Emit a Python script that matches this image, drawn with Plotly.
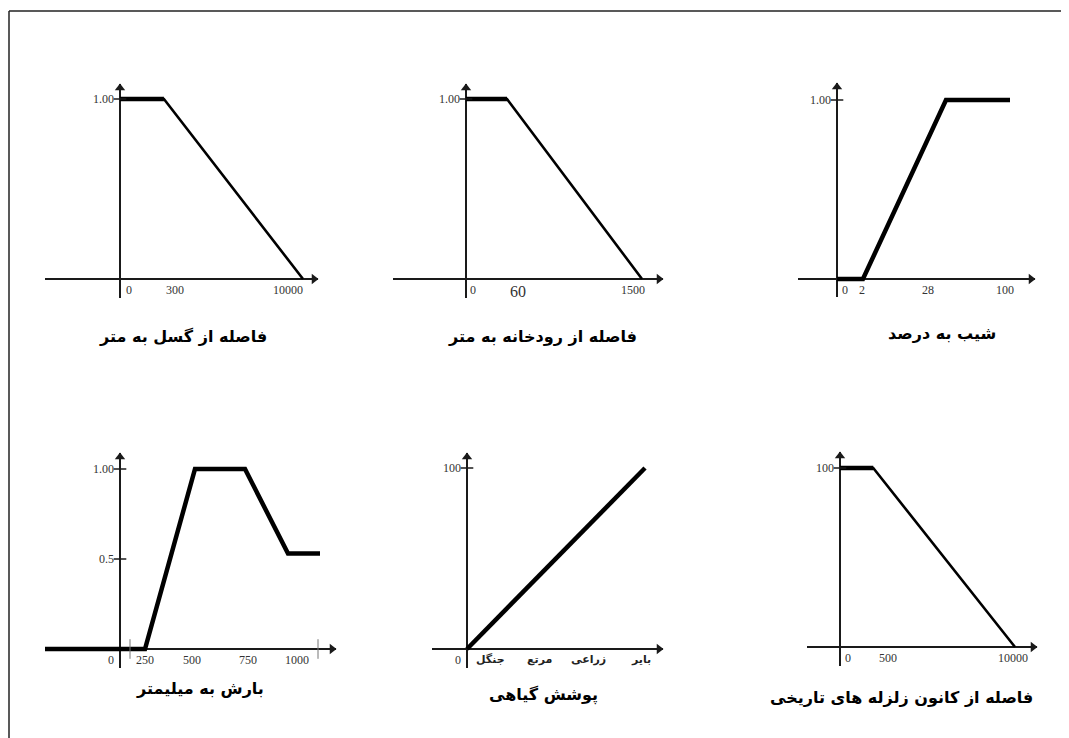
import plotly.graph_objects as go

W, H = 1069, 738
OFF = 8  # the page body adds an 8px margin, so pixel positions are shifted back by that

# ---- data: schematic membership functions (x = position along drawn axis, 1 = last breakpoint) ----
fault_x = [0, 0.24, 1.0]
fault_y = [1, 1, 0]
fault_ticks = ["0", "300", "10000"]
fault_tick_pos = [0.02, 0.30, 0.92]

river_x = [0, 0.233, 1.0]
river_y = [1, 1, 0]
river_ticks = ["0", "60", "1500"]
river_tick_pos = [0.012, 0.295, 0.949]

slope_x = [0, 0.15, 0.63, 1.0]
slope_y = [0, 0, 1, 1]
slope_ticks = ["0", "2", "28", "100"]
slope_tick_pos = [0.02, 0.145, 0.526, 0.971]

rain_x = [-0.375, 0.125, 0.375, 0.625, 0.84, 1.0]
rain_y = [0, 0, 1, 1, 0.53, 0.53]
rain_ticks = ["0", "250", "500", "750", "1000"]
rain_tick_pos = [-0.02, 0.125, 0.36, 0.64, 0.885]

veg_x = [0, 1.0]
veg_y = [0, 100]
veg_ticks = ["0", "جنگل", "مرتع", "زراعی", "بایر"]
veg_tick_pos = [-0.02, 0.13, 0.41, 0.68, 0.98]

quake_x = [0, 0.19, 1.0]
quake_y = [100, 100, 0]
quake_ticks = ["0", "500", "10000"]
quake_tick_pos = [0.017, 0.274, 0.99]

titles = ["فاصله از گسل به متر", "فاصله از رودخانه به متر", "شیب به درصد",
          "بارش به میلیمتر", "پوشش گیاهی", "فاصله از کانون زلزله های تاریخی"]

# ---- layout geometry in pixels: y-axis x, axis start, arrow tip, unit, x-axis y, top, unit, bottom ----
panels = [
    dict(x=fault_x, y=fault_y, ticks=fault_ticks, tpos=fault_tick_pos, ytick=1, ylab="1.00",
         yax=120, x0=45, x1=318, ux=183, py=279, top=84, uy=180, bot=298, lw=2.6, scale=1,
         tx=183, ty=337, plateau=True),
    dict(x=river_x, y=river_y, ticks=river_ticks, tpos=river_tick_pos, ytick=1, ylab="1.00",
         yax=466, x0=393, x1=663, ux=176, py=279, top=84, uy=180, bot=298, lw=2.6, scale=1,
         tx=542, ty=337, plateau=True),
    dict(x=slope_x, y=slope_y, ticks=slope_ticks, tpos=slope_tick_pos, ytick=1, ylab="1.00",
         yax=837, x0=798, x1=1035, ux=173, py=279, top=83, uy=179, bot=297, lw=4.5, scale=1,
         tx=942, ty=333, plateau=False),
    dict(x=rain_x, y=rain_y, ticks=rain_ticks, tpos=rain_tick_pos, ytick=1, ylab="1.00",
         yax=120, x0=45, x1=336, ux=200, py=649, top=453, uy=180, bot=668, lw=4.5, scale=1,
         tx=200, ty=688, plateau=False),
    dict(x=veg_x, y=veg_y, ticks=veg_ticks, tpos=veg_tick_pos, ytick=100, ylab="100",
         yax=467, x0=432, x1=663, ux=178, py=649, top=453, uy=181, bot=668, lw=4.5, scale=100,
         tx=543, ty=695, plateau=False),
    dict(x=quake_x, y=quake_y, ticks=quake_ticks, tpos=quake_tick_pos, ytick=100, ylab="100",
         yax=840, x0=807, x1=1037, ux=175, py=647, top=452, uy=179, bot=666, lw=2.6, scale=100,
         tx=901, ty=697, plateau=True),
]


def px(v):
    return (v - OFF) / W


def py_(v):
    return 1 - (v - OFF) / H


fig = go.Figure()
annotations = []
axis_color = "#1a1a1a"
serif = "Liberation Serif, Times New Roman, serif"
persian = "DejaVu Sans, sans-serif"

for i, p in enumerate(panels, start=1):
    xa = "x" if i == 1 else f"x{i}"
    ya = "y" if i == 1 else f"y{i}"
    s = p["scale"]
    xr = [(p["x0"] - p["yax"]) / p["ux"], (p["x1"] - p["yax"]) / p["ux"]]
    yr = [-(p["bot"] - p["py"]) / p["uy"] * s, (p["py"] - p["top"]) / p["uy"] * s]
    ax = dict(showgrid=False, showticklabels=False, ticks="", showline=False,
              zeroline=True, zerolinecolor=axis_color, zerolinewidth=2, fixedrange=True)
    fig.update_layout({
        ("xaxis" if i == 1 else f"xaxis{i}"): dict(ax, domain=[px(p["x0"]), px(p["x1"])],
                                                   range=xr, anchor=ya),
        ("yaxis" if i == 1 else f"yaxis{i}"): dict(ax, domain=[py_(p["bot"]), py_(p["top"])],
                                                   range=yr, anchor=xa),
    })

    # membership curve
    fig.add_trace(go.Scatter(x=p["x"], y=p["y"], mode="lines", xaxis=xa, yaxis=ya,
                             line=dict(color="#000000", width=p["lw"]), cliponaxis=False,
                             hoverinfo="skip"))
    if p["plateau"]:
        # the flat top segment is drawn heavier in the source figure
        fig.add_trace(go.Scatter(x=p["x"][:2], y=p["y"][:2], mode="lines", xaxis=xa, yaxis=ya,
                                 line=dict(color="#000000", width=4.5), cliponaxis=False,
                                 hoverinfo="skip"))
    # arrow heads
    fig.add_trace(go.Scatter(x=[xr[1] - 4 / p["ux"]], y=[0], mode="markers", xaxis=xa, yaxis=ya,
                             marker=dict(symbol="triangle-right", size=9, color=axis_color),
                             cliponaxis=False, hoverinfo="skip"))
    fig.add_trace(go.Scatter(x=[0], y=[yr[1] - 4 / p["uy"] * s], mode="markers", xaxis=xa, yaxis=ya,
                             marker=dict(symbol="triangle-up", size=9, color=axis_color),
                             cliponaxis=False, hoverinfo="skip"))
    # y tick mark
    fig.add_trace(go.Scatter(x=[0], y=[p["ytick"]], mode="markers", xaxis=xa, yaxis=ya,
                             marker=dict(symbol="line-ew", size=9,
                                         line=dict(color=axis_color, width=1.5)),
                             cliponaxis=False, hoverinfo="skip"))
    annotations.append(dict(x=0, y=p["ytick"], xref=xa, yref=ya, text=p["ylab"], showarrow=False,
                            xanchor="right", yanchor="middle", xshift=-4,
                            font=dict(family=serif, size=12, color="#333333")))
    if i == 4:
        annotations.append(dict(x=0, y=0.5, xref=xa, yref=ya, text="0.5", showarrow=False,
                                xanchor="right", yanchor="middle", xshift=-4,
                                font=dict(family=serif, size=12, color="#333333")))
        fig.add_trace(go.Scatter(x=[0], y=[0.5], mode="markers", xaxis=xa, yaxis=ya,
                                 marker=dict(symbol="line-ew", size=9,
                                             line=dict(color=axis_color, width=1.5)),
                                 cliponaxis=False, hoverinfo="skip"))
        fig.add_trace(go.Scatter(x=[0.05, 0.99], y=[0, 0], mode="markers", xaxis=xa, yaxis=ya,
                                 marker=dict(symbol="line-ns", size=14,
                                             line=dict(color="#777777", width=1)),
                                 cliponaxis=False, hoverinfo="skip"))

    # x tick labels
    for k, (t, xp) in enumerate(zip(p["ticks"], p["tpos"])):
        is_fa = i == 5 and k > 0
        size = 11 if is_fa else (16 if (i == 2 and t == "60") else 12)
        annotations.append(dict(
            x=xp, y=0, xref=xa, yref=ya, text=f"<b>{t}</b>" if is_fa else t, showarrow=False,
            xanchor=("right" if xp < 0 else ("left" if k == 0 else "center")),
            yanchor="top", yshift=-2,
            font=dict(family=persian if is_fa else serif, size=size,
                      color="#222222" if is_fa else "#333333")))

    # panel caption
    annotations.append(dict(x=px(p["tx"]), y=py_(p["ty"]), xref="paper", yref="paper",
                            text=f"<b>{titles[i - 1]}</b>", showarrow=False,
                            xanchor="center", yanchor="middle",
                            font=dict(family=persian, size=16, color="#000000")))

fig.update_layout(
    width=W, height=H, margin=dict(l=0, r=0, t=0, b=0),
    paper_bgcolor="white", plot_bgcolor="rgba(0,0,0,0)",
    showlegend=False, annotations=annotations,
    shapes=[
        dict(type="line", xref="paper", yref="paper", x0=px(9), x1=px(9), y0=0, y1=py_(11),
             line=dict(color="#222222", width=1.5)),
        dict(type="line", xref="paper", yref="paper", x0=px(9), x1=1, y0=py_(11), y1=py_(11),
             line=dict(color="#222222", width=1.5)),
    ],
)

fig.write_html("out.html")
